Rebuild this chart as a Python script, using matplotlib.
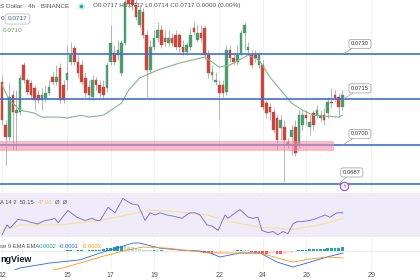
import numpy as np
import matplotlib
matplotlib.use('Agg')
import matplotlib.pyplot as plt
from matplotlib.lines import Line2D

plt.rcParams['font.family'] = ['Liberation Sans', 'DejaVu Sans']

W, H = 420, 280
U = 1e-5  # price values below are in units of 0.00001

# ---------------- data ----------------
opens = [7207,7066,7026,7164,7105,7108,7264,7214,7204,7188,
         7164,7148,7155,7171,7224,7207,7254,7198,7214,7273,
         7320,7273,7264,7221,7191,7158,7214,7198,7191,7188,
         7273,7303,7296,7237,7336,7478,7478,7462,7396,7438,
         7362,7247,7323,7353,7379,7353,7336,7353,7362,7362,
         7323,7306,7323,7386,7346,7369,7386,7296,7230,7207,
         7198,7198,7174,7313,7287,7273,7303,7369,7313,7296,
         7296,7264,7264,7138,7125,7108,7089,7056,7059,7009,
         7026,7059,6999,7066,7098,7059,7105,7098,7089,7098,
         7105,7141,7164,7158,7125]
highs = [7230,7082,7204,7181,7181,7230,7273,7221,7214,7198,
         7181,7188,7198,7214,7240,7264,7270,7214,7330,7339,
         7330,7296,7280,7240,7214,7230,7224,7214,7214,7273,
         7396,7330,7346,7346,7511,7511,7511,7478,7462,7452,
         7379,7346,7379,7405,7396,7379,7379,7369,7379,7369,
         7346,7339,7386,7405,7396,7396,7396,7313,7264,7240,
         7214,7214,7330,7330,7306,7330,7379,7405,7339,7313,
         7313,7306,7280,7148,7138,7122,7098,7098,7082,7023,
         7066,7082,7115,7115,7115,7098,7115,7132,7115,7122,
         7158,7188,7181,7171,7181]
lows = [7066,6934,7016,6983,6983,7098,7204,7164,7155,7115,
        7138,7115,7141,7164,7198,7198,7138,7138,7181,7264,
        7264,7221,7198,7158,7148,7148,7181,7158,7155,7174,
        7264,7264,7280,7227,7330,7452,7445,7412,7386,7353,
        7158,7237,7313,7339,7320,7326,7326,7326,7313,7306,
        7296,7296,7313,7362,7339,7339,7280,7221,7214,7198,
        7082,7158,7164,7273,7264,7264,7293,7313,7296,7254,
        7273,7254,7115,7089,7082,7039,6983,7016,6877,6990,
        6967,6963,6990,7049,7066,7032,7049,7089,7075,7066,
        7089,7122,7141,7089,7115]
closes = [7082,7026,7158,7108,7115,7221,7214,7174,7164,7148,
          7148,7164,7171,7191,7207,7224,7148,7148,7237,7296,
          7273,7237,7207,7171,7164,7214,7198,7171,7164,7264,
          7336,7273,7313,7336,7471,7465,7462,7422,7445,7362,
          7247,7323,7353,7379,7330,7339,7353,7336,7323,7323,
          7306,7330,7362,7372,7369,7353,7296,7237,7240,7214,
          7171,7171,7313,7287,7273,7296,7369,7396,7323,7264,
          7287,7296,7125,7105,7108,7049,7016,7082,7016,6999,
          7049,6973,7098,7098,7089,7075,7066,7115,7098,7082,
          7141,7138,7155,7125,7164]

ma_idx = [0, 2, 5, 9, 11, 16, 18, 22, 24, 28, 33, 35, 38, 43, 49, 56, 60, 63, 68, 71, 74, 80, 83, 86, 93, 94]
ma_val = [7198, 7148, 7115, 7105, 7092, 7092, 7089, 7098, 7092, 7098, 7138, 7181, 7221, 7247, 7270, 7290,
          7257, 7264, 7296, 7280, 7224, 7138, 7115, 7098, 7092, 7098]

levels = [0.0730, 0.0715, 0.0700, 0.0687]
level_labels = ['0.0730', '0.0715', '0.0700', '0.0687']
zone_low, zone_high, zone_end = 0.06980, 0.07013, 91.7

rsi_idx = [0, 1.4, 2.2, 4.4, 6.4, 8.3, 9.9, 11.9, 13.8, 14.6, 15.5, 18.2, 20.7, 22.9, 24.9, 26.2, 27.1,
           29.3, 31.2, 33.4, 34.8, 35.9, 37.6, 39.5, 40.9, 42.3, 43.6, 45.6, 47.2, 49.7, 51.9, 53.3, 54.7,
           56.6, 58, 59.7, 61.6, 62.4, 65.7, 68, 69.3, 70.7, 71.8, 73.5, 74.9, 76.2, 77.6, 79, 80.4, 81.5,
           82.9, 85.1, 87, 89.2, 90.6, 92.5, 94.2]
rsi_val = [32, 41, 38, 46, 45, 43, 42, 45, 46, 47, 43, 54, 48, 45, 47, 45, 45, 57, 52, 65, 62, 60, 59, 45,
           52, 50, 52, 50, 49, 47, 52, 52, 50, 41, 40, 36, 50, 47, 55, 48, 47, 48, 36, 34, 35, 32, 35, 33,
           42, 44, 44, 45, 47, 50, 48, 52, 52]
rsima_idx = [0, 5, 16, 27, 41, 48.3, 56.6, 63, 71, 80.4, 87.8, 94.2]
rsima_val = [36, 41, 41, 45, 54.5, 53, 50, 44, 39, 37, 41, 47]

macd_idx = [2.2, 5, 13.3, 21.5, 27.1, 32.6, 36.2, 38.1, 40.1, 43.6, 49.2, 54.7, 57.5, 60.2, 63, 65.7,
            71.3, 76, 80.4, 85.1, 89.8, 94.2]
macd_val = [-94, -76, -54, -40, -9, 18, 36, 36, 27, 13, 4, 0, -9, -27, -18, -9, -9, -50, -72, -50, -27, -9]
sig_idx = [10, 16.9, 22.4, 27.1, 34.5, 39, 45.6, 54.7, 57.5, 63, 71.3, 76, 80.4, 85.1, 89.8, 94.2]
sig_val = [-100, -76, -50, -27, 4, 18, 13, -4, -9, -9, -9, -31, -50, -36, -27, -31]
hist = [1, 1, 2, 2, 1, 1, 2, 2, 1, 1,
        2, 2, 1, 1, 2, 2, 1, 2, 3, 3,
        2, 3, 3, 2, 3, 4, 4, 5,
        8, 12, 15, 18, 22, 24, 22, 20, 16, 12, 8,
        6, 5, 4, 4, 3, 3, 2, 2, 2, 1, 1, 1, 0, 0, -1, -2,
        -4, -8, -10, -12, -10, -8,
        -6, -4, -2,
        2, 4, 5, 4, 3,
        -3, -8, -10, -12, -14, -12, -10, -12, -14, -12, -10, -8, -6,
        3, 5, 6, 7, 8, 9, 10, 11, 12, 13, 14, 15, 16]

day_idx = [0, 18, 30, 42, 60, 72, 84, 102]
day_labels = ['12', '15', '17', '19', '22', '24', '26', '29']

# ---------------- figure ----------------
fig = plt.figure(figsize=(W / 100, H / 100), dpi=100)
fig.patch.set_facecolor('white')


def fy(y):
    return 1 - y / H


def fx(x):
    return x / W


XL = (-2 / 3.62, 418 / 3.62)
GRID = '#eef0f4'

ax = fig.add_axes([0, fy(192), 1, 192 / H])
ax.set_xlim(*XL)
ax.set_ylim(0.06845, 0.07478)
ax.axis('off')

ax_r = fig.add_axes([0, fy(238), 1, 48 / H])
ax_r.set_xlim(*XL)
ax_r.set_ylim(29.1, 72.7)
ax_r.axis('off')
ax_r.patch.set_alpha(0)

ax_m = fig.add_axes([0, fy(270), 1, 32 / H])
ax_m.set_xlim(*XL)
ax_m.set_ylim(-85.5 * U, 58.5 * U)
ax_m.patch.set_alpha(0)
for s in ax_m.spines.values():
    s.set_visible(False)
ax_m.set_yticks([])
ax_m.set_xticks(day_idx)
ax_m.set_xticklabels(day_labels, fontsize=5, color='#555555')
ax_m.tick_params(axis='x', length=0, pad=1.5)

for a in (ax, ax_r, ax_m):
    for d in day_idx:
        a.axvline(d, color=GRID, lw=0.6, zorder=0)

# candles
o = np.array(opens) * U
h = np.array(highs) * U
l = np.array(lows) * U
c = np.array(closes) * U
idx = np.arange(len(o))
up = c >= o
cols = np.where(up, '#4e9c6e', '#c9463d')
ax.vlines(idx, l, h, color='#a8a8a8', lw=0.6, zorder=2)
body_b = np.minimum(o, c)
body_h = np.maximum(np.abs(c - o), 0.000012)
ax.bar(idx, body_h, bottom=body_b, width=0.72, color=cols, edgecolor=cols, lw=0.3, zorder=3)

# moving average
ax.plot(ma_idx, np.array(ma_val) * U, color='#86b58c', lw=0.8, zorder=4)

# horizontal levels
for lv in levels:
    ax.axhline(lv, color='#3c6fd8', lw=1.2, zorder=5)
ax.fill_between([XL[0], zone_end], zone_low, zone_high, color='#f48ca6', alpha=0.6, lw=0, zorder=6)

# level labels with leader
label_xy = [(94.2, 12.2, 7.2), (94.2, 12.2, 8.0), (94.2, 12.2, 8.0), (92.8, 10.0, 8.6)]
for lv, lab, (xi, dx, dy) in zip(levels, level_labels, label_xy):
    ax.annotate(lab, xy=(xi, lv), xytext=(dx, dy), textcoords='offset points',
                fontsize=4.2, color='#333333', ha='center', va='center', zorder=8,
                bbox=dict(boxstyle='round,pad=0.35', fc='white', ec='#9a9a9a', lw=0.5),
                arrowprops=dict(arrowstyle='-', color='#9a9a9a', lw=0.5, shrinkA=0, shrinkB=0))

# event marker
ax.plot(94.5, 0.06864, 'o', ms=6, mfc='white', mec='#9c4ccf', mew=0.8, zorder=8, clip_on=False)
ax.text(94.5, 0.06864, 'ϟ', fontsize=4.2, color='#9c4ccf', ha='center', va='center', zorder=9,
        family='DejaVu Sans')

# RSI panel
ax_r.axhspan(30, 70, color='#efebf8', lw=0, zorder=0)
ax_r.plot(rsima_idx, rsima_val, color='#f3e3a2', lw=0.9, zorder=2)
ax_r.plot(rsi_idx, rsi_val, color='#8576c8', lw=0.7, zorder=3)

# MACD panel
ax_m.axhline(0, color='#e3e5ea', lw=0.5, zorder=1)
hv = np.array(hist, dtype=float)
prev = np.concatenate([[0], hv[:-1]])
hcols = []
for v, p in zip(hv, prev):
    if v >= 0:
        hcols.append('#26a69a' if v >= p else '#b2dfdb')
    else:
        hcols.append('#ff5252' if v <= p else '#ffcdd2')
ax_m.bar(idx, hv * U, width=0.75, color=hcols, lw=0, zorder=2)
ax_m.plot(macd_idx, np.array(macd_val) * U, color='#2962ff', lw=0.6, zorder=3)
ax_m.plot(sig_idx, np.array(sig_val) * U, color='#ff9800', lw=0.6, zorder=3)

# ---------------- texts ----------------
fs = 4.6
fig.text(fx(0), fy(6), 'S Dollar · 4h · BINANCE', fontsize=fs, color='#555555', ha='left', va='center')
fig.add_artist(Line2D([fx(81)], [fy(6)], marker='o', ms=5, color='#cdeee6', mec='none',
                      transform=fig.transFigure))
fig.add_artist(Line2D([fx(81)], [fy(6)], marker='o', ms=2.5, color='#26a69a', mec='none',
                      transform=fig.transFigure))
fig.text(fx(93), fy(6), 'O0.0717 H0.0717 L0.0714 C0.0717 0.0000 (0.00%)', fontsize=fs,
         color='#555555', ha='left', va='center')
fig.text(fx(0.5), fy(19), '0', fontsize=fs, color='#555555', ha='left', va='center')
fig.text(fx(17.5), fy(19), '0.0717', fontsize=fs, color='#3d5a99', ha='center', va='center',
         bbox=dict(boxstyle='round,pad=0.4', fc='white', ec='#aab4c8', lw=0.5))
fig.text(fx(3), fy(31), '0.0710', fontsize=fs, color='#5ea85f', ha='left', va='center')

fs2 = 4.2
fig.text(fx(0), fy(203), 'A 14 2', fontsize=fs2, color='#555555', ha='left', va='center')
fig.text(fx(20), fy(203), '53.15', fontsize=fs2, color='#555555', ha='left', va='center')
fig.text(fx(38), fy(203), '47.98', fontsize=fs2, color='#e3cc6c', ha='left', va='center')
fig.text(fx(55), fy(203), 'Ø  Ø', fontsize=fs2, color='#555555', ha='left', va='center')

fig.text(fx(0), fy(247), 'se 9 EMA EMA', fontsize=fs2, color='#555555', ha='left', va='center')
fig.text(fx(38.5), fy(247), '0.0002', fontsize=fs2, color='#26a69a', ha='left', va='center')
fig.text(fx(59), fy(247), '-0.0001', fontsize=fs2, color='#2962ff', ha='left', va='center')
fig.text(fx(82), fy(247), '-0.0003', fontsize=fs2, color='#ff9800', ha='left', va='center')
fig.text(fx(0), fy(259), 'ngView', fontsize=6.5, fontweight='bold', color='#131722',
         ha='left', va='center')

fig.savefig('out.png', dpi=100)
